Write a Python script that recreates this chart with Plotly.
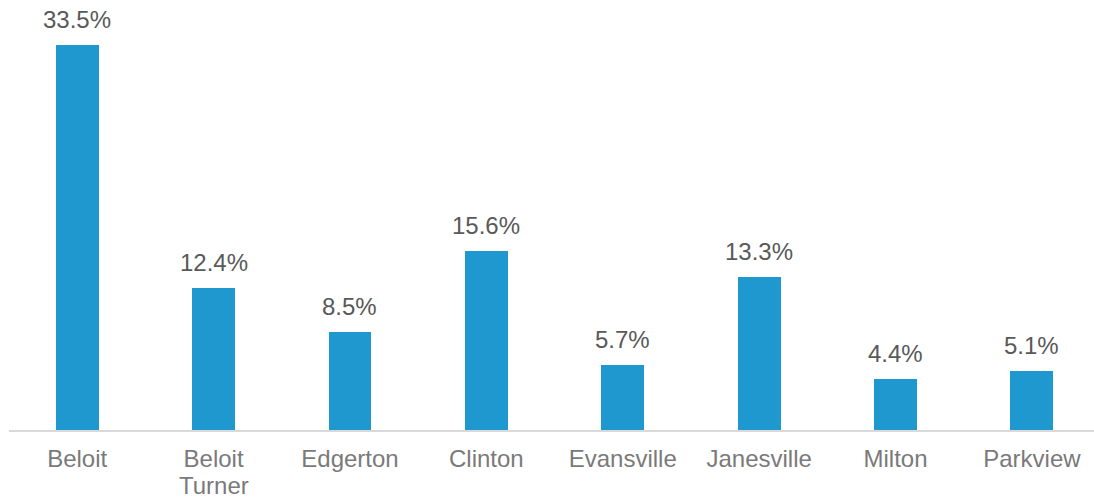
import plotly.graph_objects as go

categories = ["Beloit", "Beloit<br>Turner", "Edgerton", "Clinton", "Evansville", "Janesville", "Milton", "Parkview"]
values = [33.5, 12.4, 8.5, 15.6, 5.7, 13.3, 4.4, 5.1]
labels = [f"{v:.1f}%" for v in values]

first_lines = [c.split("<br>")[0] for c in categories]
extra_lines = [c.split("<br>")[1:] for c in categories]

FONT = "Liberation Sans, Arial"

fig = go.Figure()
fig.add_trace(go.Bar(
    x=list(range(len(categories))), y=values,
    marker=dict(color="#1E98CF", line=dict(width=0)),
    width=0.315, hoverinfo="skip",
))
for i, (v, t) in enumerate(zip(values, labels)):
    fig.add_annotation(x=i, y=v, text=t, showarrow=False, yanchor="bottom", yshift=10,
                       font=dict(family=FONT, size=24, color="#595959"))
for i, extra in enumerate(extra_lines):
    for k, line in enumerate(extra):
        fig.add_annotation(x=i, xref="x", y=0, yref="paper", text=line, showarrow=False,
                           yanchor="middle", yshift=-55 - 26 * k,
                           font=dict(family=FONT, size=24, color="#7A7A7A"))

fig.update_layout(
    width=1094, height=498,
    margin=dict(l=9, r=0, t=8, b=68),
    paper_bgcolor="white", plot_bgcolor="white",
    showlegend=False,
    bargap=0,
    xaxis=dict(
        tickmode="array", tickvals=list(range(len(categories))), ticktext=first_lines,
        range=[-0.5, 7.455], showgrid=False, zeroline=False,
        showline=True, linecolor="#D9D9D9", linewidth=1.5,
        ticks="", ticklen=0, ticklabelstandoff=6, automargin=False,
        tickfont=dict(family=FONT, size=24, color="#7A7A7A"),
    ),
    yaxis=dict(range=[0, 36.73], visible=False, showgrid=False, zeroline=False),
)
fig.write_html("out.html", config={"displayModeBar": False},
               post_script="document.body.style.margin='0';")
